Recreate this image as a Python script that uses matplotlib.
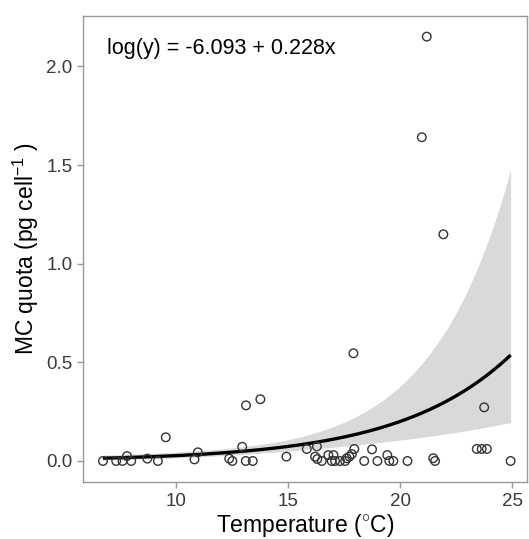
import numpy as np
import matplotlib
matplotlib.use("Agg")
import matplotlib.pyplot as plt

# ---- data ----
temperature = [6.75, 7.34, 7.62, 7.82, 8.01, 8.73, 9.20, 9.55, 10.83, 10.98,
               12.38, 12.52, 12.96, 13.12, 13.43, 13.13, 13.77, 14.93, 15.84, 16.29,
               16.21, 16.31, 16.51, 16.80, 17.03, 16.95, 17.10, 17.32, 17.55, 17.62,
               17.74, 17.85, 17.96, 17.92, 18.40, 18.75, 18.99, 19.43, 19.52, 19.70,
               20.33, 21.48, 21.56, 21.93, 20.97, 21.19, 23.42, 23.64, 23.87, 23.75,
               24.93]
mc_quota = [0.000, 0.000, 0.000, 0.025, 0.000, 0.012, 0.000, 0.120, 0.008, 0.044,
            0.012, 0.000, 0.072, 0.000, 0.000, 0.282, 0.313, 0.022, 0.061, 0.074,
            0.022, 0.010, 0.000, 0.030, 0.030, 0.000, 0.000, 0.000, 0.000, 0.014,
            0.022, 0.035, 0.061, 0.546, 0.000, 0.059, 0.000, 0.030, 0.000, 0.000,
            0.000, 0.014, 0.000, 1.149, 1.641, 2.151, 0.061, 0.061, 0.061, 0.272,
            0.000]

# fitted curve (log scale) and its confidence band, as drawn
fit_intercept = -5.608
fit_slope = 0.200
band_center_x = 14.0
band_var0 = 0.14
band_var1 = 0.0074

equation_label = "log(y) = -6.093 + 0.228x"
x_ticks = [10, 15, 20, 25]
y_ticks = [0.0, 0.5, 1.0, 1.5, 2.0]

# ---- figure ----
plt.rcParams['font.family'] = ['Liberation Sans', 'DejaVu Sans']
plt.rcParams['mathtext.fontset'] = 'custom'
plt.rcParams['mathtext.rm'] = 'Liberation Sans'
plt.rcParams['mathtext.it'] = 'Liberation Sans'

fig = plt.figure(figsize=(5.29, 5.39), dpi=100)
ax = fig.add_axes([83 / 529, (539 - 482.3) / 539, (527 - 83) / 529, (482.3 - 15.7) / 539])

xs = np.linspace(min(temperature), max(temperature), 300)
log_fit = fit_intercept + fit_slope * xs
half = np.sqrt(band_var0 + band_var1 * (xs - band_center_x) ** 2)
ax.fill_between(xs, np.exp(log_fit - half), np.exp(log_fit + half),
                color='#D9D9D9', linewidth=0, zorder=1)
ax.plot(xs, np.exp(log_fit), color='black', linewidth=2.4, zorder=2,
        solid_capstyle='butt')
ax.scatter(temperature, mc_quota, s=38, facecolors='none', edgecolors='#333333',
           linewidths=1.0, zorder=3)

ax.set_xlim(5.86, 25.66)
ax.set_ylim(-0.108, 2.257)
ax.set_xticks(x_ticks)
ax.set_yticks(y_ticks)
ax.set_yticklabels([f"{v:.1f}" for v in y_ticks])

for s in ax.spines.values():
    s.set_color('#999999')
    s.set_linewidth(1.0)
ax.tick_params(axis='both', direction='out', length=4.5, width=1.0, color='#999999',
               labelcolor='#3A3A3A', labelsize=13.5, pad=3)

ax.set_xlabel("Temperature ($^{\\circ}$C)", fontsize=16.5, color='black', labelpad=2)
ax.set_ylabel("MC quota (pg cell$^{-1}$ )", fontsize=16.5, color='black', labelpad=4)

ax.text(0.055, 0.93, equation_label, transform=ax.transAxes, fontsize=15.5,
        ha='left', va='center', color='black')

fig.savefig("out.png", dpi=100, facecolor='white')
